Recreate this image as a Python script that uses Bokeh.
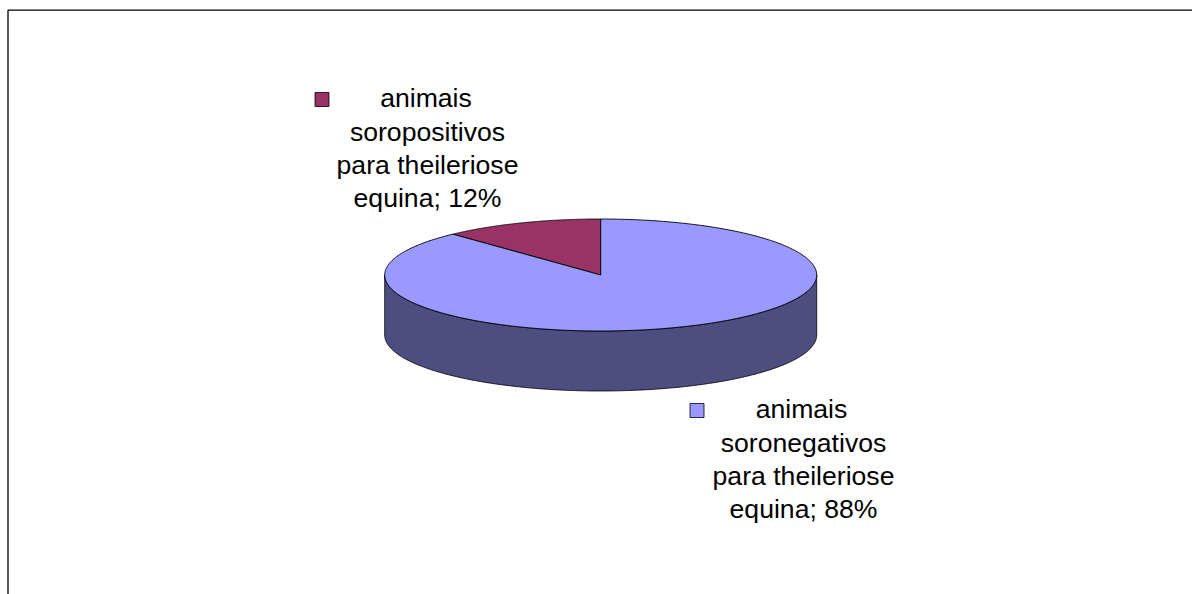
import numpy as np
from bokeh.plotting import figure
from bokeh.models import Range1d
from bokeh.core.properties import value
from bokeh.embed import file_html
from bokeh.resources import INLINE

categories = ["animais soropositivos para theileriose equina",
              "animais soronegativos para theileriose equina"]
percent = [12, 88]
label_lines_pos = ["animais", "soropositivos", "para theileriose", "equina; 12%"]
label_lines_neg = ["animais", "soronegativos", "para theileriose", "equina; 88%"]
colors = ["#993366", "#9999FF"]
side_color = "#4D4D80"

W, H = 1192, 594
p = figure(width=W, height=H, output_backend="svg", toolbar_location=None,
           x_range=Range1d(0, W), y_range=Range1d(H, 0),
           min_border=0, outline_line_color=None)
p.axis.visible = False
p.grid.visible = False

cx, cy, rx, ry, depth = 600.2, 274.5, 216, 56, 60

def pt(a):
    # a: angle clockwise from the top of the pie, radians
    return cx + rx * np.sin(a), cy - ry * np.cos(a)

# side wall (front half of the cylinder)
a = np.linspace(np.pi / 2, 3 * np.pi / 2, 200)
x, y = pt(a)
p.patch(np.r_[x, x[::-1]], np.r_[y, y[::-1] + depth],
        fill_color=side_color, line_color="black", line_width=0.8)

# top face from the values; the small slice ends at the top going clockwise
total = sum(percent)
frac = [v / total for v in percent]
start = -2 * np.pi * frac[0]
for f, c in zip(frac, colors):
    end = start + 2 * np.pi * f
    a = np.linspace(start, end, 300)
    x, y = pt(a)
    p.patch(np.r_[cx, x], np.r_[cy, y], fill_color=c,
            line_color="black", line_width=0.9)
    start = end

# outer frame: top and left only, meeting at the corner
p.line([7.5, 7.5, W], [H, 9.7, 9.7], line_color="black", line_width=1.3)

# data labels
for lines, xs, base, mx, my, c in [
    (label_lines_pos, [425.5, 427, 427, 427], [97.5, 131, 164.5, 197.5], 321.5, 99, colors[0]),
    (label_lines_neg, [801, 803, 803, 803], [408.5, 442, 475.5, 508.5], 696.5, 410, colors[1]),
]:
    p.scatter([mx], [my], marker="square", size=14, fill_color=c,
              line_color="black", line_width=0.8)
    p.text(xs, base, text=lines, text_align="center",
           text_baseline="alphabetic", text_color="black",
           text_font=value("Liberation Sans"), text_font_size="26.6px")

open("out.html", "w").write(file_html(p, INLINE))
